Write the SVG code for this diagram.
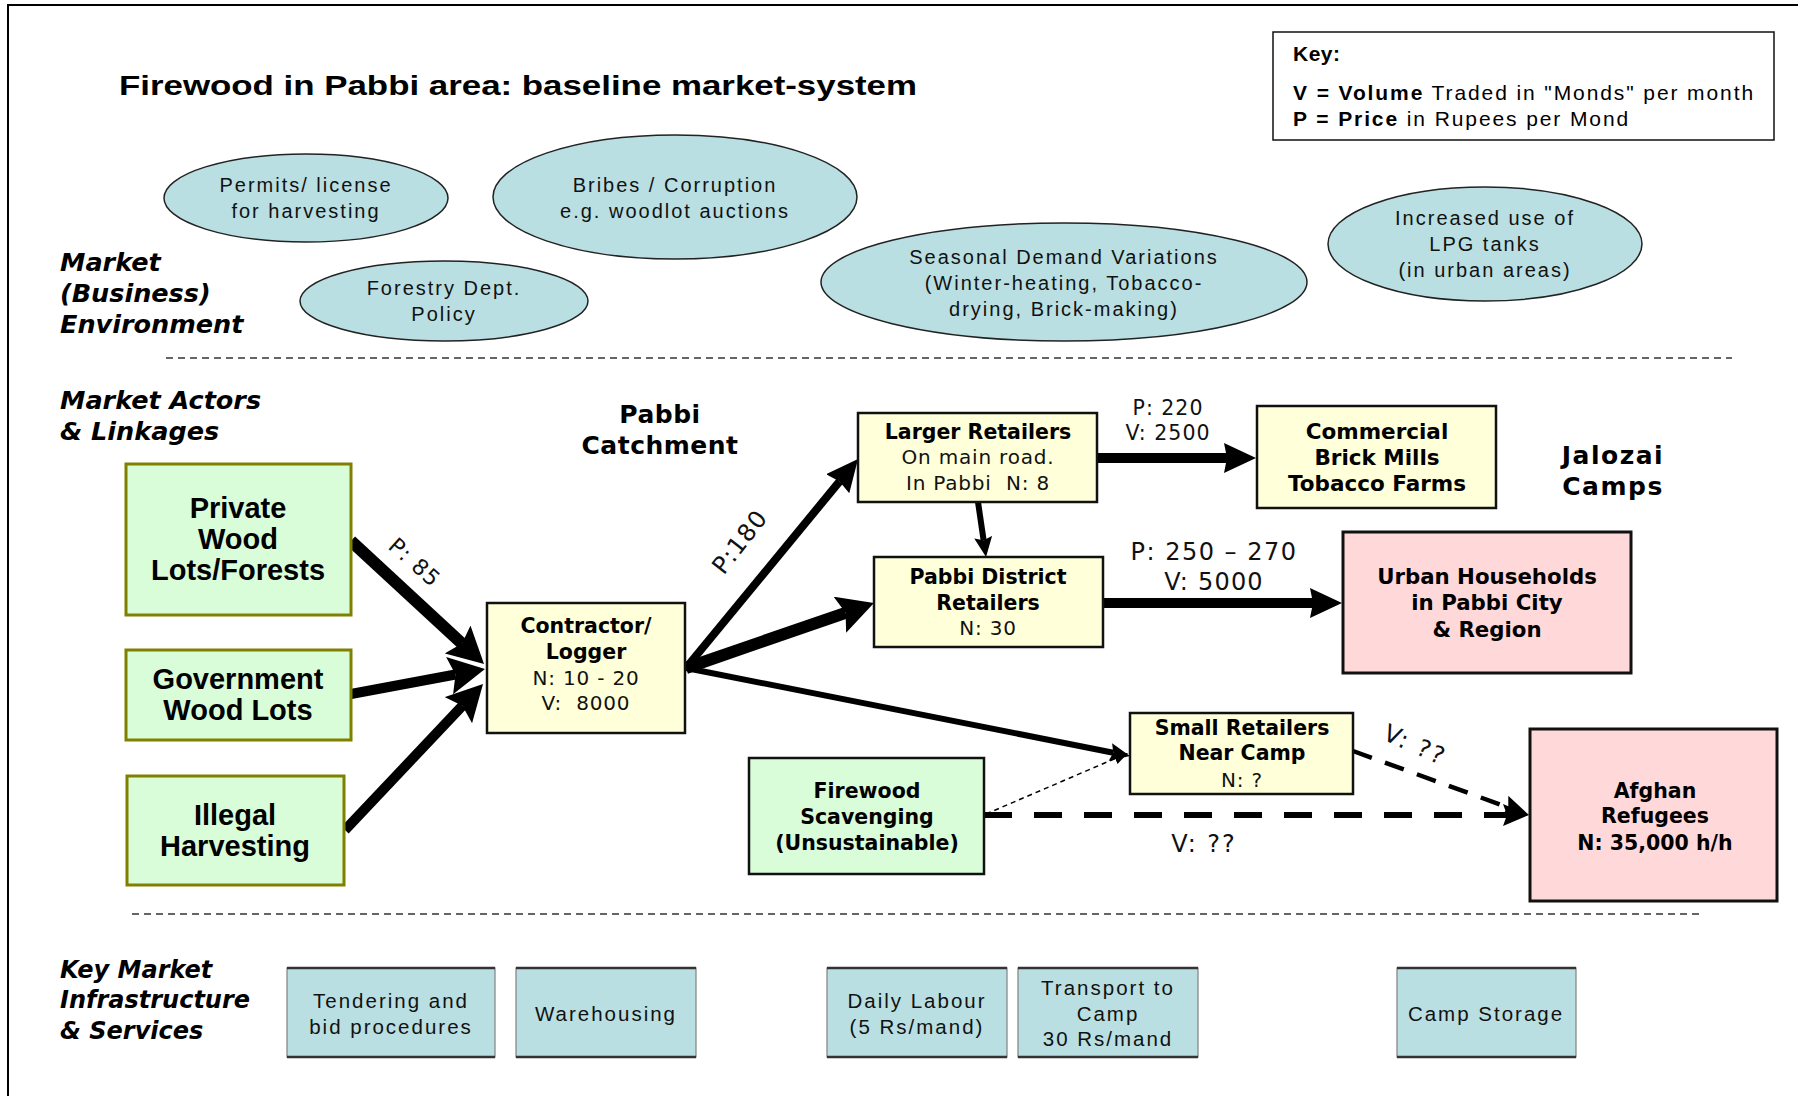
<svg xmlns="http://www.w3.org/2000/svg" width="1798" height="1096" viewBox="0 0 1798 1096">
<style>
  .title{font-family:"Liberation Sans",Arial,sans-serif;font-weight:bold;font-size:28px;fill:#000}
  .key{font-family:"Liberation Sans",Arial,sans-serif;font-size:21px;letter-spacing:1.9px;fill:#000}
  .ell{fill:#b9dfe2;stroke:#222;stroke-width:1.5}
  .elltxt{font-family:"Liberation Sans",Arial,sans-serif;font-size:20px;letter-spacing:2px;fill:#111;text-anchor:middle}
  .sec{font-family:"DejaVu Sans",Verdana,sans-serif;font-weight:bold;font-style:italic;font-size:25.5px;fill:#000}
  .area{font-family:"DejaVu Sans",Verdana,sans-serif;font-weight:bold;font-size:25px;fill:#000;text-anchor:middle}
  .green{fill:#d9fcd9;stroke:#808000;stroke-width:3}
  .green2{fill:#d9fcd9;stroke:#111;stroke-width:2.5}
  .yellow{fill:#ffffd9;stroke:#111;stroke-width:2.5}
  .pink{fill:#ffd9d9;stroke:#111;stroke-width:3}
  .gtxt{font-family:"Liberation Sans",Arial,sans-serif;font-weight:bold;font-size:29px;fill:#000;text-anchor:middle}
  .btxt{font-family:"DejaVu Sans",Verdana,sans-serif;font-weight:bold;font-size:20.5px;fill:#000;text-anchor:middle}
  .ntxt{font-family:"DejaVu Sans",Verdana,sans-serif;font-size:20px;letter-spacing:0.8px;fill:#111;text-anchor:middle}
  .infra{fill:#b9dfe2;stroke:#808080;stroke-width:1.2}
  .infraedge{stroke:#333;stroke-width:2.5}
  .itxt{font-family:"Liberation Sans",Arial,sans-serif;font-size:20.5px;letter-spacing:2px;fill:#111;text-anchor:middle}
  .sep{stroke:#333;stroke-width:1.5;stroke-dasharray:7 5;fill:none}
  .lab{font-family:"DejaVu Sans",Verdana,sans-serif;font-size:20.5px;letter-spacing:1px;fill:#111;text-anchor:middle}
  .arr{stroke:#000;fill:none;stroke-linecap:butt}
</style>
<defs>
  <marker id="mA" markerUnits="userSpaceOnUse" markerWidth="32" markerHeight="30" viewBox="0 0 32 30" refX="3" refY="15" orient="auto"><path d="M0,0 L32,15 L0,30 L3,15 Z" fill="#000"/></marker>
  <marker id="mA2" markerUnits="userSpaceOnUse" markerWidth="36" markerHeight="38" viewBox="0 0 36 38" refX="6" refY="19" orient="auto"><path d="M0,0 L36,19 L0,38 L6,19 Z" fill="#000"/></marker>
  <marker id="mB" markerUnits="userSpaceOnUse" markerWidth="20" markerHeight="18" viewBox="0 0 20 18" refX="3" refY="9" orient="auto"><path d="M0,0 L20,9 L0,18 L3,9 Z" fill="#000"/></marker>
  <marker id="mC" markerUnits="userSpaceOnUse" markerWidth="26" markerHeight="22" viewBox="0 0 26 22" refX="4" refY="11" orient="auto"><path d="M0,0 L26,11 L0,22 L4,11 Z" fill="#000"/></marker>
  <marker id="mD" markerUnits="userSpaceOnUse" markerWidth="14" markerHeight="12" viewBox="0 0 14 12" refX="2" refY="6" orient="auto"><path d="M0,0 L14,6 L0,12 Z" fill="#000"/></marker>
</defs>
<rect x="0" y="0" width="1798" height="1096" fill="#fff"/>
<rect x="8" y="5" width="1800" height="1100" fill="none" stroke="#000" stroke-width="2"/>

<text class="title" x="119" y="95" textLength="798" lengthAdjust="spacingAndGlyphs">Firewood in Pabbi area: baseline market-system</text>

<g id="key">
  <rect x="1273" y="32" width="501" height="108" fill="#fff" stroke="#111" stroke-width="1.5"/>
  <text class="key" x="1293" y="61" font-weight="bold" style="letter-spacing:0.5px">Key:</text>
  <text class="key" x="1293" y="100"><tspan font-weight="bold">V = Volume</tspan> Traded in "Monds" per month</text>
  <text class="key" x="1293" y="126"><tspan font-weight="bold">P = Price</tspan> in Rupees per Mond</text>
</g>

<g id="env-permits">
  <ellipse class="ell" cx="306" cy="198" rx="142" ry="44"/>
  <text class="elltxt" x="306" y="192">Permits/ license</text>
  <text class="elltxt" x="306" y="218">for harvesting</text>
</g>
<g id="env-bribes">
  <ellipse class="ell" cx="675" cy="197" rx="182" ry="62"/>
  <text class="elltxt" x="675" y="192">Bribes / Corruption</text>
  <text class="elltxt" x="675" y="218">e.g. woodlot auctions</text>
</g>
<g id="env-forestry">
  <ellipse class="ell" cx="444" cy="301" rx="144" ry="40"/>
  <text class="elltxt" x="444" y="295">Forestry Dept.</text>
  <text class="elltxt" x="444" y="321">Policy</text>
</g>
<g id="env-seasonal">
  <ellipse class="ell" cx="1064" cy="282" rx="243" ry="59"/>
  <text class="elltxt" x="1064" y="264">Seasonal Demand Variations</text>
  <text class="elltxt" x="1064" y="290">(Winter-heating, Tobacco-</text>
  <text class="elltxt" x="1064" y="316">drying, Brick-making)</text>
</g>
<g id="env-lpg">
  <ellipse class="ell" cx="1485" cy="244" rx="157" ry="57"/>
  <text class="elltxt" x="1485" y="225">Increased use of</text>
  <text class="elltxt" x="1485" y="251">LPG tanks</text>
  <text class="elltxt" x="1485" y="277">(in urban areas)</text>
</g>

<text class="sec" x="60" y="271">Market</text>
<text class="sec" x="60" y="302">(Business)</text>
<text class="sec" x="60" y="333">Environment</text>

<line class="sep" x1="166" y1="358" x2="1732" y2="358"/>

<text class="sec" x="60" y="409">Market Actors</text>
<text class="sec" x="60" y="440">&amp; Linkages</text>

<text class="area" x="660" y="423" style="letter-spacing:0.5px">Pabbi</text>
<text class="area" x="660" y="454" style="letter-spacing:0.5px">Catchment</text>
<text class="area" x="1613" y="464" style="letter-spacing:1.5px">Jalozai</text>
<text class="area" x="1613" y="495" style="letter-spacing:1.5px">Camps</text>

<g id="connectors">
  <line class="arr" x1="351" y1="541" x2="462" y2="643.6" stroke-width="12" marker-end="url(#mA2)"/>
  <line class="arr" x1="351" y1="694" x2="455.5" y2="674.5" stroke-width="10" marker-end="url(#mA2)"/>
  <line class="arr" x1="345" y1="830" x2="462.4" y2="705.8" stroke-width="10" marker-end="url(#mA2)"/>
  <line class="arr" x1="686" y1="668" x2="839.6" y2="481.4" stroke-width="8" marker-end="url(#mA)"/>
  <line class="arr" x1="686" y1="668" x2="845.6" y2="612.8" stroke-width="12" marker-end="url(#mA2)"/>
  <line class="arr" x1="686" y1="668" x2="1113.3" y2="752.7" stroke-width="6" marker-end="url(#mB)"/>
  <line class="arr" x1="978" y1="502" x2="983.6" y2="540.2" stroke-width="6" marker-end="url(#mB)"/>
  <line class="arr" x1="1097" y1="458" x2="1227" y2="458" stroke-width="10" marker-end="url(#mA)"/>
  <line class="arr" x1="1103" y1="603" x2="1313" y2="603" stroke-width="10" marker-end="url(#mA)"/>
  <line class="arr" x1="1353" y1="751" x2="1508.3" y2="807.5" stroke-width="4.5" stroke-dasharray="20 14" marker-end="url(#mC)"/>
  <line class="arr" x1="984" y1="815" x2="1507" y2="815" stroke-width="6" stroke-dasharray="28 22" marker-end="url(#mC)"/>
  <line class="arr" x1="986" y1="814" x2="1117" y2="757.7" stroke-width="1.5" stroke-dasharray="5 4" marker-end="url(#mD)"/>
  <text class="lab" transform="translate(415,562) rotate(42)" y="8" style="font-size:22px">P: 85</text>
  <text class="lab" transform="translate(740,542) rotate(-52)" y="8" style="font-size:24px">P:180</text>
  <text class="lab" x="1168" y="415">P: 220</text>
  <text class="lab" x="1168" y="440">V: 2500</text>
  <text class="lab" x="1214" y="560" style="font-size:24px;letter-spacing:1.5px">P: 250 – 270</text>
  <text class="lab" x="1214" y="590" style="font-size:24px;letter-spacing:1.2px">V: 5000</text>
  <text class="lab" transform="translate(1415,745) rotate(24)" y="8" style="font-size:24px;letter-spacing:2px">V: ??</text>
  <text class="lab" x="1204" y="852" style="font-size:24px;letter-spacing:2px">V: ??</text>
</g>

<g id="private">
  <rect class="green" x="126" y="464" width="225" height="151"/>
  <text class="gtxt" x="238" y="518">Private</text>
  <text class="gtxt" x="238" y="549">Wood</text>
  <text class="gtxt" x="238" y="580">Lots/Forests</text>
</g>
<g id="government">
  <rect class="green" x="126" y="650" width="225" height="90"/>
  <text class="gtxt" x="238" y="689">Government</text>
  <text class="gtxt" x="238" y="720">Wood Lots</text>
</g>
<g id="illegal">
  <rect class="green" x="127" y="776" width="217" height="109"/>
  <text class="gtxt" x="235" y="825">Illegal</text>
  <text class="gtxt" x="235" y="856">Harvesting</text>
</g>
<g id="contractor">
  <rect class="yellow" x="487" y="603" width="198" height="130"/>
  <text class="btxt" x="586" y="633">Contractor/</text>
  <text class="btxt" x="586" y="659">Logger</text>
  <text class="ntxt" x="586" y="685">N: 10 - 20</text>
  <text class="ntxt" x="586" y="710">V:&#160; 8000</text>
</g>
<g id="larger">
  <rect class="yellow" x="858" y="413" width="239" height="89"/>
  <text class="btxt" x="978" y="439">Larger Retailers</text>
  <text class="ntxt" x="978" y="464">On main road.</text>
  <text class="ntxt" x="978" y="490">In Pabbi&#160; N: 8</text>
</g>
<g id="commercial">
  <rect class="yellow" x="1257" y="406" width="239" height="102"/>
  <text class="btxt" x="1377" y="439" style="font-size:21.5px">Commercial</text>
  <text class="btxt" x="1377" y="465" style="font-size:21.5px">Brick Mills</text>
  <text class="btxt" x="1377" y="491" style="font-size:21.5px">Tobacco Farms</text>
</g>
<g id="district">
  <rect class="yellow" x="874" y="557" width="229" height="90"/>
  <text class="btxt" x="988" y="584">Pabbi District</text>
  <text class="btxt" x="988" y="610">Retailers</text>
  <text class="ntxt" x="988" y="635">N: 30</text>
</g>
<g id="urban">
  <rect class="pink" x="1343" y="532" width="288" height="141"/>
  <text class="btxt" x="1487" y="584" style="font-size:21.3px">Urban Households</text>
  <text class="btxt" x="1487" y="610" style="font-size:21.3px">in Pabbi City</text>
  <text class="btxt" x="1487" y="637" style="font-size:21.3px">&amp; Region</text>
</g>
<g id="small">
  <rect class="yellow" x="1130" y="713" width="223" height="81"/>
  <text class="btxt" x="1242" y="735">Small Retailers</text>
  <text class="btxt" x="1242" y="760">Near Camp</text>
  <text class="ntxt" x="1242" y="787">N: ?</text>
</g>
<g id="scavenging">
  <rect class="green2" x="749" y="758" width="235" height="116"/>
  <text class="btxt" x="867" y="798">Firewood</text>
  <text class="btxt" x="867" y="824">Scavenging</text>
  <text class="btxt" x="867" y="850">(Unsustainable)</text>
</g>
<g id="afghan">
  <rect class="pink" x="1530" y="729" width="247" height="172"/>
  <text class="btxt" x="1655" y="798">Afghan</text>
  <text class="btxt" x="1655" y="823">Refugees</text>
  <text class="btxt" x="1655" y="850">N: 35,000 h/h</text>
</g>

<line class="sep" x1="132" y1="914" x2="1699" y2="914"/>

<text class="sec" x="60" y="978" style="font-size:24px">Key Market</text>
<text class="sec" x="60" y="1008" style="font-size:24px">Infrastructure</text>
<text class="sec" x="60" y="1039" style="font-size:24px">&amp; Services</text>

<g id="tendering">
  <rect class="infra" x="287" y="968" width="208" height="89"/>
  <line class="infraedge" x1="287" y1="968" x2="495" y2="968"/><line class="infraedge" x1="287" y1="1057" x2="495" y2="1057"/>
  <text class="itxt" x="391" y="1008">Tendering and</text>
  <text class="itxt" x="391" y="1034">bid procedures</text>
</g>
<g id="warehousing">
  <rect class="infra" x="516" y="968" width="180" height="89"/>
  <line class="infraedge" x1="516" y1="968" x2="696" y2="968"/><line class="infraedge" x1="516" y1="1057" x2="696" y2="1057"/>
  <text class="itxt" x="606" y="1021">Warehousing</text>
</g>
<g id="labour">
  <rect class="infra" x="827" y="968" width="180" height="89"/>
  <line class="infraedge" x1="827" y1="968" x2="1007" y2="968"/><line class="infraedge" x1="827" y1="1057" x2="1007" y2="1057"/>
  <text class="itxt" x="917" y="1008">Daily Labour</text>
  <text class="itxt" x="917" y="1034">(5 Rs/mand)</text>
</g>
<g id="transport">
  <rect class="infra" x="1018" y="968" width="180" height="89"/>
  <line class="infraedge" x1="1018" y1="968" x2="1198" y2="968"/><line class="infraedge" x1="1018" y1="1057" x2="1198" y2="1057"/>
  <text class="itxt" x="1108" y="995">Transport to</text>
  <text class="itxt" x="1108" y="1021">Camp</text>
  <text class="itxt" x="1108" y="1046">30 Rs/mand</text>
</g>
<g id="storage">
  <rect class="infra" x="1397" y="968" width="179" height="89"/>
  <line class="infraedge" x1="1397" y1="968" x2="1576" y2="968"/><line class="infraedge" x1="1397" y1="1057" x2="1576" y2="1057"/>
  <text class="itxt" x="1486" y="1021">Camp Storage</text>
</g>
</svg>
